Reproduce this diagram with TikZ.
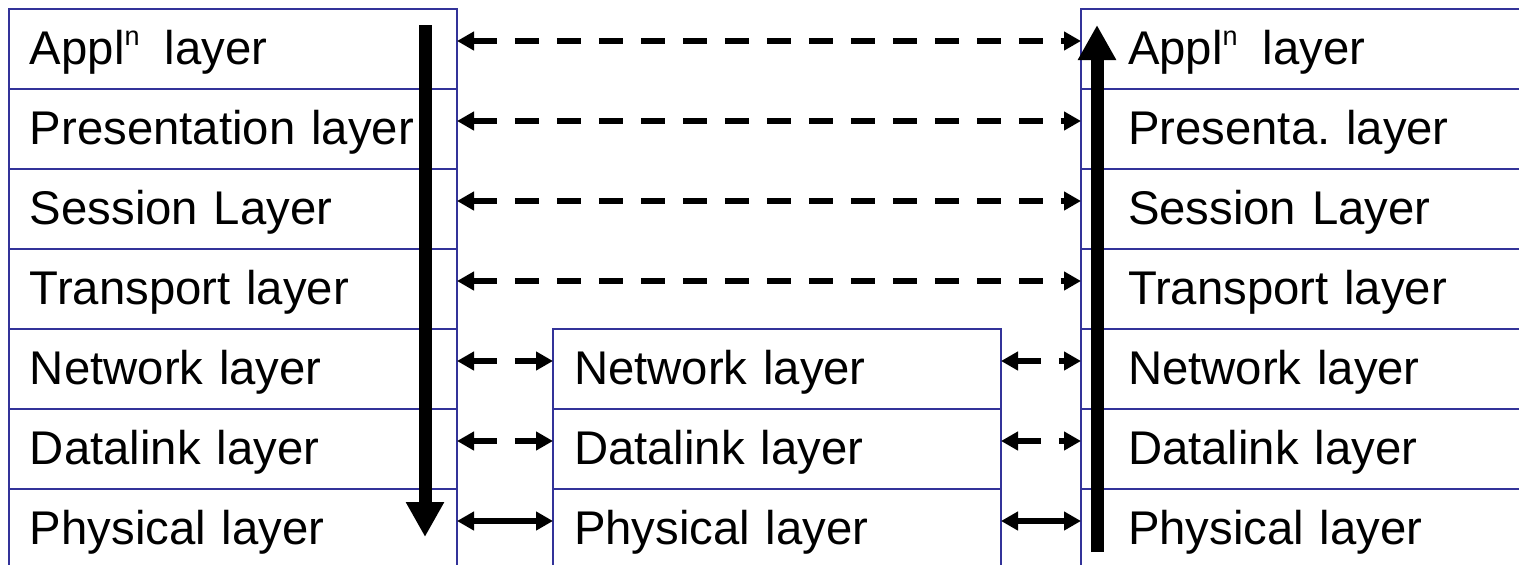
\documentclass[tikz,border=0pt]{standalone}
\usepackage{fontspec}
\setmainfont{Liberation Sans}
\usetikzlibrary{arrows.meta}
\definecolor{frame}{RGB}{51,51,153}
\frenchspacing
\newcommand{\appln}{Appl\raisebox{19pt}{\fontsize{27}{27}\selectfont n}\hspace{25pt}layer}
\tikzset{
  layerbox/.style={draw=frame, line width=2pt, rectangle, outer sep=0pt,
    minimum width=448pt, minimum height=80pt, text width=406pt, inner xsep=21pt,
    inner ysep=0pt, align=left, text height=38pt, text depth=6pt,
    font=\fontsize{47.3}{57}\selectfont},
  farbox/.style={layerbox, execute at begin node={\hspace*{26pt}}},
  peer/.style={line width=6pt, dash pattern=on 24pt off 18pt,
    {Triangle[length=17pt,width=18pt]}-{Triangle[length=17pt,width=18pt]}},
  wire/.style={line width=6pt,
    {Triangle[length=17pt,width=18pt]}-{Triangle[length=17pt,width=18pt]}},
  flow/.style={line width=13pt, -{Triangle[length=35pt,width=36pt]}}
}
\begin{document}
\begin{tikzpicture}[x=1pt,y=-1pt]
\clip (0,0) rectangle (1519,565);
\fill[white] (0,0) rectangle (1519,565);

% sending host
\node[layerbox] (L1) at (233,48.5)  {\appln};
\node[layerbox] (L2) at (233,128.5) {Presentation layer};
\node[layerbox] (L3) at (233,208.5) {Session Layer};
\node[layerbox] (L4) at (233,288.5) {Transport layer};
\node[layerbox] (L5) at (233,368.5) {Network layer};
\node[layerbox] (L6) at (233,448.5) {Datalink layer};
\node[layerbox] (L7) at (233,528.5) {Physical layer};

% intermediate node
\node[layerbox] (M5) at (777,368.5) {Network layer};
\node[layerbox] (M6) at (777,448.5) {Datalink layer};
\node[layerbox] (M7) at (777,528.5) {Physical layer};

% receiving host
\node[farbox] (R1) at (1305,48.5)  {\appln};
\node[farbox] (R2) at (1305,128.5) {Presenta. layer};
\node[farbox] (R3) at (1305,208.5) {Session Layer};
\node[farbox] (R4) at (1305,288.5) {Transport layer};
\node[farbox] (R5) at (1305,368.5) {Network layer};
\node[farbox] (R6) at (1305,448.5) {Datalink layer};
\node[farbox] (R7) at (1305,528.5) {Physical layer};

% peer-to-peer links
\foreach \k in {1,2,3,4}
  \draw[peer] ([yshift=7.5pt]L\k.east) -- ([yshift=7.5pt]R\k.west);
\foreach \k in {5,6} {
  \draw[peer] ([yshift=7.5pt]L\k.east) -- ([yshift=7.5pt]M\k.west);
  \draw[peer] ([yshift=7.5pt]M\k.east) -- ([yshift=7.5pt]R\k.west);
}
\draw[wire] ([yshift=7.5pt]L7.east) -- ([yshift=7.5pt]M7.west);
\draw[wire] ([yshift=7.5pt]M7.east) -- ([yshift=7.5pt]R7.west);

% data flow down the sender and up the receiver
\coordinate (dtop) at (425,25);
\coordinate (dbot) at (425,537);
\coordinate (ubot) at (1097,552);
\coordinate (utop) at (1097,25);
\draw[flow] (dtop) -- (dbot);
\draw[flow] (ubot) -- (utop);
\end{tikzpicture}
\end{document}
